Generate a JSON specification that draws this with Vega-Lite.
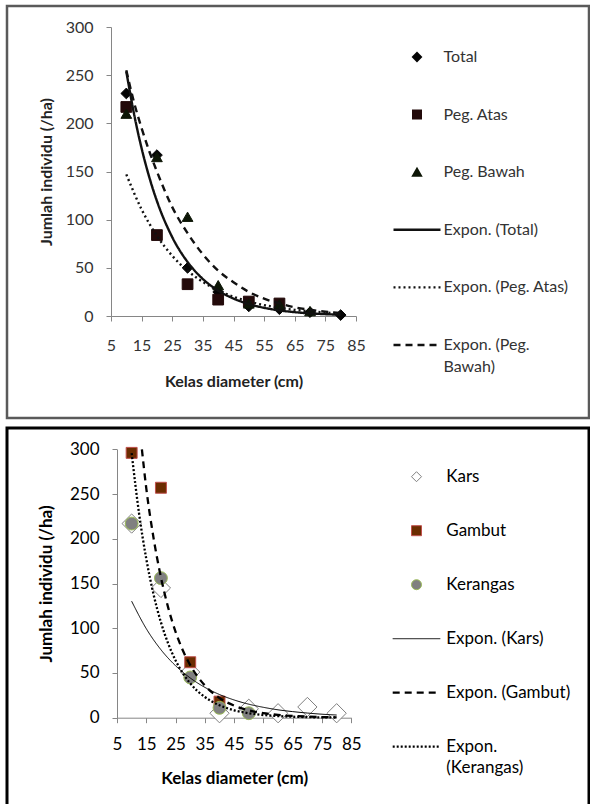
{
  "$schema": "https://vega.github.io/schema/vega-lite/v6.json",
  "padding": {"left": 5, "top": 4, "right": 0, "bottom": 0},
  "spacing": 6,
  "background": "white",
  "resolve": {"scale": {"shape": "independent", "fill": "independent", "stroke": "independent", "strokeDash": "independent"}},
  "config": {
    "font": "Lato",
    "axis": {
      "grid": false, "domainColor": "#868686", "tickColor": "#868686", "tickSize": 5,
      "labelFont": "Lato", "labelFontSize": 16, "labelColor": "#333333",
      "labelFlush": false, "labelOverlap": false,
      "titleFont": "Lato", "titleFontSize": 16, "titleFontWeight": "bold", "titleColor": "#222222"
    }
  },
  "datasets": {
    "top_points": [
      {"series": "Total", "x": 10, "y": 231}, {"series": "Total", "x": 20, "y": 167}, {"series": "Total", "x": 30, "y": 50},
      {"series": "Total", "x": 40, "y": 25}, {"series": "Total", "x": 50, "y": 10}, {"series": "Total", "x": 60, "y": 7},
      {"series": "Total", "x": 70, "y": 4}, {"series": "Total", "x": 80, "y": 1},
      {"series": "Peg. Atas", "x": 10, "y": 217}, {"series": "Peg. Atas", "x": 20, "y": 84}, {"series": "Peg. Atas", "x": 30, "y": 33},
      {"series": "Peg. Atas", "x": 40, "y": 17}, {"series": "Peg. Atas", "x": 50, "y": 15}, {"series": "Peg. Atas", "x": 60, "y": 13},
      {"series": "Peg. Bawah", "x": 10, "y": 210}, {"series": "Peg. Bawah", "x": 20, "y": 165}, {"series": "Peg. Bawah", "x": 30, "y": 103},
      {"series": "Peg. Bawah", "x": 40, "y": 32}, {"series": "Peg. Bawah", "x": 50, "y": 13}, {"series": "Peg. Bawah", "x": 60, "y": 12},
      {"series": "Peg. Bawah", "x": 70, "y": 5}
    ],
    "top_trend": [
      {"series": "Expon. (Total)", "x": 10, "y": 253.8}, {"series": "Expon. (Total)", "x": 12.5, "y": 210.1}, {"series": "Expon. (Total)", "x": 15, "y": 174.0},
      {"series": "Expon. (Total)", "x": 17.5, "y": 144.1}, {"series": "Expon. (Total)", "x": 20, "y": 119.3}, {"series": "Expon. (Total)", "x": 25, "y": 81.8},
      {"series": "Expon. (Total)", "x": 30, "y": 56.1}, {"series": "Expon. (Total)", "x": 35, "y": 38.4}, {"series": "Expon. (Total)", "x": 40, "y": 26.4},
      {"series": "Expon. (Total)", "x": 45, "y": 18.1}, {"series": "Expon. (Total)", "x": 50, "y": 12.4}, {"series": "Expon. (Total)", "x": 55, "y": 8.5},
      {"series": "Expon. (Total)", "x": 60, "y": 5.8}, {"series": "Expon. (Total)", "x": 65, "y": 4.0}, {"series": "Expon. (Total)", "x": 70, "y": 2.7},
      {"series": "Expon. (Total)", "x": 75, "y": 1.9}, {"series": "Expon. (Total)", "x": 80, "y": 1.3},
      {"series": "Expon. (Peg. Atas)", "x": 10, "y": 147}, {"series": "Expon. (Peg. Atas)", "x": 15, "y": 110.6}, {"series": "Expon. (Peg. Atas)", "x": 20, "y": 83.2},
      {"series": "Expon. (Peg. Atas)", "x": 25, "y": 62.5}, {"series": "Expon. (Peg. Atas)", "x": 30, "y": 47}, {"series": "Expon. (Peg. Atas)", "x": 35, "y": 35.4},
      {"series": "Expon. (Peg. Atas)", "x": 40, "y": 26.6}, {"series": "Expon. (Peg. Atas)", "x": 45, "y": 20}, {"series": "Expon. (Peg. Atas)", "x": 50, "y": 15},
      {"series": "Expon. (Peg. Atas)", "x": 55, "y": 11.3}, {"series": "Expon. (Peg. Atas)", "x": 60, "y": 8.5}, {"series": "Expon. (Peg. Atas)", "x": 65, "y": 6.4},
      {"series": "Expon. (Peg. Atas)", "x": 70, "y": 4.8}, {"series": "Expon. (Peg. Atas)", "x": 75, "y": 3.6}, {"series": "Expon. (Peg. Atas)", "x": 80, "y": 2.7},
      {"series": "Expon. (Peg. Bawah)", "x": 10, "y": 255}, {"series": "Expon. (Peg. Bawah)", "x": 12.5, "y": 222}, {"series": "Expon. (Peg. Bawah)", "x": 15, "y": 195},
      {"series": "Expon. (Peg. Bawah)", "x": 17.5, "y": 171}, {"series": "Expon. (Peg. Bawah)", "x": 20, "y": 150}, {"series": "Expon. (Peg. Bawah)", "x": 25, "y": 113},
      {"series": "Expon. (Peg. Bawah)", "x": 30, "y": 86}, {"series": "Expon. (Peg. Bawah)", "x": 35, "y": 64}, {"series": "Expon. (Peg. Bawah)", "x": 40, "y": 47},
      {"series": "Expon. (Peg. Bawah)", "x": 45, "y": 35}, {"series": "Expon. (Peg. Bawah)", "x": 50, "y": 25}, {"series": "Expon. (Peg. Bawah)", "x": 55, "y": 18},
      {"series": "Expon. (Peg. Bawah)", "x": 60, "y": 13}, {"series": "Expon. (Peg. Bawah)", "x": 65, "y": 9}, {"series": "Expon. (Peg. Bawah)", "x": 70, "y": 6.5},
      {"series": "Expon. (Peg. Bawah)", "x": 75, "y": 4.5}, {"series": "Expon. (Peg. Bawah)", "x": 80, "y": 3.2}
    ],
    "top_legend": [
      {"series": "Total", "kind": "symbol", "label": "Total"},
      {"series": "Peg. Atas", "kind": "symbol", "label": "Peg. Atas"},
      {"series": "Peg. Bawah", "kind": "symbol", "label": "Peg. Bawah"},
      {"series": "Expon. (Total)", "kind": "line", "label": "Expon. (Total)"},
      {"series": "Expon. (Peg. Atas)", "kind": "line", "label": "Expon. (Peg. Atas)"},
      {"series": "Expon. (Peg. Bawah)", "kind": "line", "label": "Expon. (Peg.", "label2": "Bawah)"}
    ],
    "bottom_points": [
      {"series": "Kars", "x": 10, "y": 217}, {"series": "Kars", "x": 20, "y": 145}, {"series": "Kars", "x": 30, "y": 51},
      {"series": "Kars", "x": 40, "y": 5}, {"series": "Kars", "x": 50, "y": 10}, {"series": "Kars", "x": 60, "y": 5},
      {"series": "Kars", "x": 70, "y": 12}, {"series": "Kars", "x": 80, "y": 5},
      {"series": "Gambut", "x": 10, "y": 296}, {"series": "Gambut", "x": 20, "y": 257}, {"series": "Gambut", "x": 30, "y": 62},
      {"series": "Gambut", "x": 40, "y": 18},
      {"series": "Kerangas", "x": 10, "y": 217}, {"series": "Kerangas", "x": 20, "y": 156}, {"series": "Kerangas", "x": 30, "y": 45},
      {"series": "Kerangas", "x": 40, "y": 11}, {"series": "Kerangas", "x": 50, "y": 5}
    ],
    "bottom_trend": [
      {"series": "Expon. (Kars)", "x": 10, "y": 130.2}, {"series": "Expon. (Kars)", "x": 15, "y": 99.5}, {"series": "Expon. (Kars)", "x": 20, "y": 76},
      {"series": "Expon. (Kars)", "x": 25, "y": 58.1}, {"series": "Expon. (Kars)", "x": 30, "y": 44.4}, {"series": "Expon. (Kars)", "x": 35, "y": 33.9},
      {"series": "Expon. (Kars)", "x": 40, "y": 25.9}, {"series": "Expon. (Kars)", "x": 45, "y": 19.8}, {"series": "Expon. (Kars)", "x": 50, "y": 15.1},
      {"series": "Expon. (Kars)", "x": 55, "y": 11.6}, {"series": "Expon. (Kars)", "x": 60, "y": 8.8}, {"series": "Expon. (Kars)", "x": 65, "y": 6.8},
      {"series": "Expon. (Kars)", "x": 70, "y": 5.2}, {"series": "Expon. (Kars)", "x": 75, "y": 3.9}, {"series": "Expon. (Kars)", "x": 80, "y": 3.0},
      {"series": "Expon. (Gambut)", "x": 13.5, "y": 300}, {"series": "Expon. (Gambut)", "x": 15, "y": 256.3}, {"series": "Expon. (Gambut)", "x": 17.5, "y": 200.5},
      {"series": "Expon. (Gambut)", "x": 20, "y": 156.9}, {"series": "Expon. (Gambut)", "x": 22.5, "y": 122.8}, {"series": "Expon. (Gambut)", "x": 25, "y": 96},
      {"series": "Expon. (Gambut)", "x": 27.5, "y": 75.1}, {"series": "Expon. (Gambut)", "x": 30, "y": 58.8}, {"series": "Expon. (Gambut)", "x": 35, "y": 36},
      {"series": "Expon. (Gambut)", "x": 40, "y": 22}, {"series": "Expon. (Gambut)", "x": 45, "y": 13.5}, {"series": "Expon. (Gambut)", "x": 50, "y": 8.2},
      {"series": "Expon. (Gambut)", "x": 55, "y": 5.0}, {"series": "Expon. (Gambut)", "x": 60, "y": 3.1}, {"series": "Expon. (Gambut)", "x": 70, "y": 1.2},
      {"series": "Expon. (Gambut)", "x": 80, "y": 0.4},
      {"series": "Expon. (Kerangas)", "x": 10, "y": 295.7}, {"series": "Expon. (Kerangas)", "x": 12.5, "y": 229.1}, {"series": "Expon. (Kerangas)", "x": 15, "y": 177.5},
      {"series": "Expon. (Kerangas)", "x": 17.5, "y": 137.6}, {"series": "Expon. (Kerangas)", "x": 20, "y": 106.6}, {"series": "Expon. (Kerangas)", "x": 22.5, "y": 82.7},
      {"series": "Expon. (Kerangas)", "x": 25, "y": 64}, {"series": "Expon. (Kerangas)", "x": 27.5, "y": 49.6}, {"series": "Expon. (Kerangas)", "x": 30, "y": 38.4},
      {"series": "Expon. (Kerangas)", "x": 35, "y": 23.1}, {"series": "Expon. (Kerangas)", "x": 40, "y": 13.9}, {"series": "Expon. (Kerangas)", "x": 45, "y": 8.3},
      {"series": "Expon. (Kerangas)", "x": 50, "y": 5.0}, {"series": "Expon. (Kerangas)", "x": 55, "y": 3.0}, {"series": "Expon. (Kerangas)", "x": 60, "y": 1.8},
      {"series": "Expon. (Kerangas)", "x": 70, "y": 0.65}, {"series": "Expon. (Kerangas)", "x": 80, "y": 0.23}
    ],
    "bottom_legend": [
      {"series": "Kars", "kind": "symbol", "label": "Kars"},
      {"series": "Gambut", "kind": "symbol", "label": "Gambut"},
      {"series": "Kerangas", "kind": "symbol", "label": "Kerangas"},
      {"series": "Expon. (Kars)", "kind": "line", "label": "Expon. (Kars)"},
      {"series": "Expon. (Gambut)", "kind": "line", "label": "Expon. (Gambut)"},
      {"series": "Expon. (Kerangas)", "kind": "line", "label": "Expon.", "label2": "(Kerangas)"}
    ]
  },
  "vconcat": [
    {
      "width": 582,
      "height": 412,
      "view": {"stroke": "#5a5a5a", "strokeWidth": 2.5},
      "resolve": {"scale": {"x": "independent", "y": "independent"}},
      "layer": [
        {
          "layer": [
            {
              "data": {"name": "top_points"},
              "mark": {"type": "point", "filled": true, "size": 115, "opacity": 1, "strokeWidth": 1},
              "encoding": {
                "x": {"field": "x", "type": "quantitative",
                  "scale": {"domain": [5, 85], "range": [104, 349], "nice": false, "zero": false},
                  "axis": {"values": [5, 15, 25, 35, 45, 55, 65, 75, 85], "offset": -102, "labelPadding": 16, "titlePadding": 20, "title": "Kelas diameter (cm)"}},
                "y": {"field": "y", "type": "quantitative",
                  "scale": {"domain": [0, 300], "range": [310, 21], "nice": false, "zero": false},
                  "axis": {"values": [0, 50, 100, 150, 200, 250, 300], "offset": -104, "labelPadding": 13, "titlePadding": 11, "title": "Jumlah individu (/ha)"}},
                "shape": {"field": "series", "type": "nominal", "legend": null,
                  "scale": {"domain": ["Total", "Peg. Atas", "Peg. Bawah"], "range": ["diamond", "square", "triangle-up"]}},
                "fill": {"field": "series", "type": "nominal", "legend": null,
                  "scale": {"domain": ["Total", "Peg. Atas", "Peg. Bawah"], "range": ["#050505", "#230a0a", "#0d1606"]}},
                "stroke": {"field": "series", "type": "nominal", "legend": null,
                  "scale": {"domain": ["Total", "Peg. Atas", "Peg. Bawah"], "range": ["#050505", "#230a0a", "#0d1606"]}}
              }
            },
            {
              "data": {"name": "top_trend"},
              "mark": {"type": "line", "interpolate": "monotone", "strokeWidth": 2.4, "color": "#111111"},
              "encoding": {
                "x": {"field": "x", "type": "quantitative"},
                "y": {"field": "y", "type": "quantitative"},
                "strokeDash": {"field": "series", "type": "nominal", "legend": null,
                  "scale": {"domain": ["Expon. (Total)", "Expon. (Peg. Atas)", "Expon. (Peg. Bawah)"], "range": [[1, 0], [2, 3], [7, 5]]}}
              }
            }
          ]
        },
        {
          "data": {"name": "top_legend"},
          "layer": [
            {
              "transform": [{"filter": "datum.kind === 'symbol'"}],
              "mark": {"type": "point", "filled": true, "size": 64, "opacity": 1},
              "encoding": {
                "x": {"datum": 0.5, "type": "quantitative", "scale": {"domain": [0, 1], "range": [386.5, 433.5]}, "axis": null},
                "y": {"field": "series", "type": "nominal", "axis": null,
                  "scale": {"type": "point", "padding": 0, "range": [51, 339],
                    "domain": ["Total", "Peg. Atas", "Peg. Bawah", "Expon. (Total)", "Expon. (Peg. Atas)", "Expon. (Peg. Bawah)"]}},
                "shape": {"field": "series", "type": "nominal", "legend": null},
                "fill": {"field": "series", "type": "nominal", "legend": null},
                "stroke": {"field": "series", "type": "nominal", "legend": null}
              }
            },
            {
              "transform": [{"filter": "datum.kind === 'line'"}],
              "mark": {"type": "rule", "strokeWidth": 2.4, "color": "#111111"},
              "encoding": {
                "x": {"datum": 0, "type": "quantitative"},
                "x2": {"datum": 1},
                "y": {"field": "series", "type": "nominal"},
                "strokeDash": {"field": "series", "type": "nominal", "legend": null}
              }
            },
            {
              "mark": {"type": "text", "align": "left", "baseline": "middle", "dx": 3, "font": "Lato", "fontSize": 16, "color": "#333333"},
              "encoding": {
                "x": {"datum": 1, "type": "quantitative"},
                "y": {"field": "series", "type": "nominal"},
                "text": {"field": "label"}
              }
            },
            {
              "transform": [{"filter": "isValid(datum.label2)"}],
              "mark": {"type": "text", "align": "left", "baseline": "middle", "dx": 3, "dy": 22, "font": "Lato", "fontSize": 16, "color": "#333333"},
              "encoding": {
                "x": {"datum": 1, "type": "quantitative"},
                "y": {"field": "series", "type": "nominal"},
                "text": {"field": "label2"}
              }
            }
          ]
        }
      ]
    },
    {
      "width": 582,
      "height": 378,
      "view": {"stroke": "#000000", "strokeWidth": 3},
      "resolve": {"scale": {"x": "independent", "y": "independent"}},
      "layer": [
        {
          "data": {"name": "bottom_points"},
          "layer": [
            {
              "transform": [{"filter": "datum.series === 'Kars'"}],
              "mark": {"type": "point", "filled": true, "size": 370, "opacity": 1, "strokeWidth": 1},
              "encoding": {
                "x": {"field": "x", "type": "quantitative",
                  "scale": {"domain": [5, 85], "range": [110, 344.3], "nice": false, "zero": false},
                  "axis": {"values": [5, 15, 25, 35, 45, 55, 65, 75, 85], "offset": -88.3, "labelPadding": 14, "titlePadding": 18, "labelFontSize": 17, "labelColor": "#000000", "titleFontSize": 17, "titleColor": "#000000", "title": "Kelas diameter (cm)"}},
                "y": {"field": "y", "type": "quantitative",
                  "scale": {"domain": [0, 300], "range": [289.7, 21.3], "nice": false, "zero": false},
                  "axis": {"values": [0, 50, 100, 150, 200, 250, 300], "offset": -110, "labelPadding": 13, "titlePadding": 14, "labelFontSize": 17, "labelColor": "#000000", "titleFontSize": 17, "titleColor": "#000000", "title": "Jumlah individu (/ha)"}},
                "shape": {"field": "series", "type": "nominal", "legend": null,
                  "scale": {"domain": ["Kars", "Gambut", "Kerangas"], "range": ["diamond", "square", "circle"]}},
                "fill": {"field": "series", "type": "nominal", "legend": null,
                  "scale": {"domain": ["Kars", "Gambut", "Kerangas"], "range": ["#ffffff", "#6b2c00", "#808080"]}},
                "stroke": {"field": "series", "type": "nominal", "legend": null,
                  "scale": {"domain": ["Kars", "Gambut", "Kerangas"], "range": ["#7f7f7f", "#c0504d", "#9bbb59"]}}
              }
            },
            {
              "transform": [{"filter": "datum.series === 'Gambut'"}],
              "mark": {"type": "point", "filled": true, "size": 120, "opacity": 1, "strokeWidth": 1},
              "encoding": {
                "x": {"field": "x", "type": "quantitative"},
                "y": {"field": "y", "type": "quantitative"},
                "shape": {"field": "series", "type": "nominal", "legend": null},
                "fill": {"field": "series", "type": "nominal", "legend": null},
                "stroke": {"field": "series", "type": "nominal", "legend": null}
              }
            },
            {
              "transform": [{"filter": "datum.series === 'Kerangas'"}],
              "mark": {"type": "point", "filled": true, "size": 165, "opacity": 1, "strokeWidth": 1},
              "encoding": {
                "x": {"field": "x", "type": "quantitative"},
                "y": {"field": "y", "type": "quantitative"},
                "shape": {"field": "series", "type": "nominal", "legend": null},
                "fill": {"field": "series", "type": "nominal", "legend": null},
                "stroke": {"field": "series", "type": "nominal", "legend": null}
              }
            },
            {
              "data": {"name": "bottom_trend"},
              "transform": [{"filter": "datum.series === 'Expon. (Kars)'"}],
              "mark": {"type": "line", "interpolate": "monotone", "strokeWidth": 1, "color": "#000000"},
              "encoding": {
                "x": {"field": "x", "type": "quantitative"},
                "y": {"field": "y", "type": "quantitative"},
                "strokeDash": {"field": "series", "type": "nominal", "legend": null,
                  "scale": {"domain": ["Expon. (Kars)", "Expon. (Gambut)", "Expon. (Kerangas)"], "range": [[1, 0], [7, 5], [2, 2]]}}
              }
            },
            {
              "data": {"name": "bottom_trend"},
              "transform": [{"filter": "datum.series !== 'Expon. (Kars)'"}],
              "mark": {"type": "line", "interpolate": "monotone", "strokeWidth": 2.3, "color": "#000000"},
              "encoding": {
                "x": {"field": "x", "type": "quantitative"},
                "y": {"field": "y", "type": "quantitative"},
                "strokeDash": {"field": "series", "type": "nominal", "legend": null}
              }
            }
          ]
        },
        {
          "data": {"name": "bottom_legend"},
          "layer": [
            {
              "transform": [{"filter": "datum.kind === 'symbol'"}],
              "mark": {"type": "point", "filled": true, "size": 100, "opacity": 1, "strokeWidth": 1},
              "encoding": {
                "x": {"datum": 0.5, "type": "quantitative", "scale": {"domain": [0, 1], "range": [385.7, 433.3]}, "axis": null},
                "y": {"field": "series", "type": "nominal", "axis": null,
                  "scale": {"type": "point", "padding": 0, "range": [48.7, 318.7],
                    "domain": ["Kars", "Gambut", "Kerangas", "Expon. (Kars)", "Expon. (Gambut)", "Expon. (Kerangas)"]}},
                "shape": {"field": "series", "type": "nominal", "legend": null},
                "fill": {"field": "series", "type": "nominal", "legend": null},
                "stroke": {"field": "series", "type": "nominal", "legend": null}
              }
            },
            {
              "transform": [{"filter": "datum.series === 'Expon. (Kars)'"}],
              "mark": {"type": "rule", "strokeWidth": 1, "color": "#000000"},
              "encoding": {
                "x": {"datum": 0, "type": "quantitative"},
                "x2": {"datum": 1},
                "y": {"field": "series", "type": "nominal"},
                "strokeDash": {"field": "series", "type": "nominal", "legend": null}
              }
            },
            {
              "transform": [{"filter": "datum.kind === 'line' && datum.series !== 'Expon. (Kars)'"}],
              "mark": {"type": "rule", "strokeWidth": 2.3, "color": "#000000"},
              "encoding": {
                "x": {"datum": 0, "type": "quantitative"},
                "x2": {"datum": 1},
                "y": {"field": "series", "type": "nominal"},
                "strokeDash": {"field": "series", "type": "nominal", "legend": null}
              }
            },
            {
              "mark": {"type": "text", "align": "left", "baseline": "middle", "dx": 6, "font": "Lato", "fontSize": 17, "color": "#000000"},
              "encoding": {
                "x": {"datum": 1, "type": "quantitative"},
                "y": {"field": "series", "type": "nominal"},
                "text": {"field": "label"}
              }
            },
            {
              "transform": [{"filter": "isValid(datum.label2)"}],
              "mark": {"type": "text", "align": "left", "baseline": "middle", "dx": 6, "dy": 21.5, "font": "Lato", "fontSize": 17, "color": "#000000"},
              "encoding": {
                "x": {"datum": 1, "type": "quantitative"},
                "y": {"field": "series", "type": "nominal"},
                "text": {"field": "label2"}
              }
            }
          ]
        }
      ]
    }
  ]
}
